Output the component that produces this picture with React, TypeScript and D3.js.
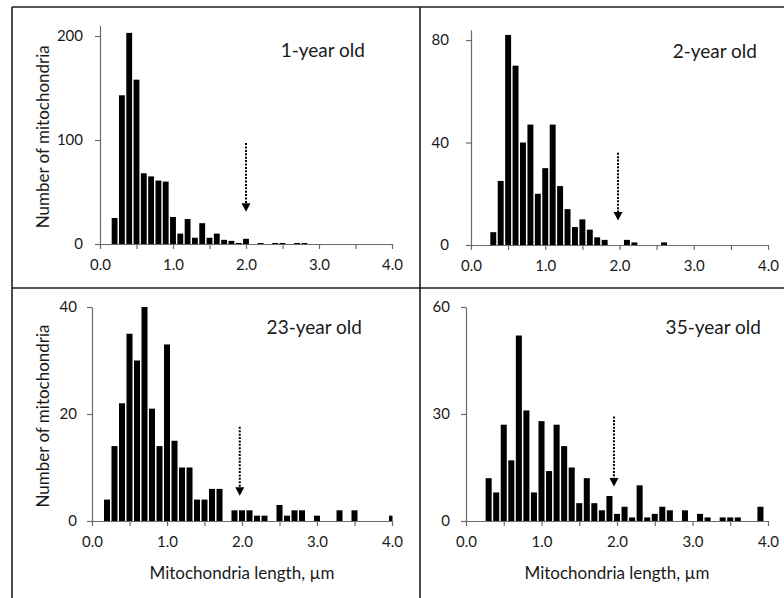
import React, { useEffect, useRef } from 'react';
import * as d3 from 'd3';

// bin centres (µm) and number of mitochondria per bin
const lengths1yr = [0.2, 0.3, 0.4, 0.5, 0.6, 0.7, 0.8, 0.9, 1.0, 1.1, 1.2, 1.3, 1.4, 1.5, 1.6, 1.7, 1.8, 1.9, 2.0, 2.2, 2.4, 2.5, 2.7, 2.8];
const counts1yr = [25, 143, 203, 158, 68, 65, 61, 60, 26, 10, 24, 6, 20, 6, 10, 4, 3, 1, 5, 1, 1, 1, 1, 1];

const lengths2yr = [0.3, 0.4, 0.5, 0.6, 0.7, 0.8, 0.9, 1.0, 1.1, 1.2, 1.3, 1.4, 1.5, 1.6, 1.7, 1.8, 2.1, 2.2, 2.6];
const counts2yr = [5, 25, 82, 70, 40, 47, 20, 30, 47, 23, 14, 7, 10, 6, 3, 2, 2, 1, 1];

const lengths23yr = [0.2, 0.3, 0.4, 0.5, 0.6, 0.7, 0.8, 0.9, 1.0, 1.1, 1.2, 1.3, 1.4, 1.5, 1.6, 1.7, 1.9, 2.0, 2.1, 2.2, 2.3, 2.5, 2.6, 2.7, 2.8, 3.0, 3.3, 3.5, 4.0];
const counts23yr = [4, 14, 22, 35, 30, 40, 21, 14, 33, 15, 10, 10, 4, 4, 6, 6, 2, 2, 2, 1, 1, 3, 1, 2, 2, 1, 2, 2, 1];

const lengths35yr = [0.3, 0.4, 0.5, 0.6, 0.7, 0.8, 0.9, 1.0, 1.1, 1.2, 1.3, 1.4, 1.5, 1.6, 1.7, 1.8, 1.9, 2.0, 2.1, 2.2, 2.3, 2.4, 2.5, 2.6, 2.7, 2.9, 3.1, 3.2, 3.4, 3.5, 3.6, 3.9];
const counts35yr = [12, 8, 27, 17, 52, 31, 8, 28, 14, 27, 21, 15, 5, 12, 5, 3, 7, 2, 4, 1, 10, 1, 2, 4, 3, 3, 2, 1, 1, 1, 1, 4];

const titles = ['1-year old', '2-year old', '23-year old', '35-year old'];
const xTicks = [0, 0.5, 1, 1.5, 2, 2.5, 3, 3.5, 4];
const yTicks1yr = [0, 100, 200];
const yTicks2yr = [0, 40, 80];
const yTicks23yr = [0, 20, 40];
const yTicks35yr = [0, 30, 60];
const yMaxes = [210, 84, 40, 60];

// dotted arrows: x position, start and tip (in counts)
const arrowAt = [2.0, 1.98, 1.97, 1.96];
const arrowFrom = [97, 36, 17.6, 29.3];
const arrowTo = [31, 9.6, 4.7, 9.7];

const FONT = 'Lato, "Open Sans", sans-serif';

// layout of each panel in the 784x598 page
const panels = [
  { lengths: lengths1yr, counts: counts1yr, yTicks: yTicks1yr, left: 100, right: 392, bottom: 244, top: 25.6, yPad: 12, titleX: 365, titleY: 57, yTitle: true, xTitle: false },
  { lengths: lengths2yr, counts: counts2yr, yTicks: yTicks2yr, left: 471, right: 768, bottom: 245, top: 29.8, yPad: 17, titleX: 757, titleY: 58, yTitle: false, xTitle: false },
  { lengths: lengths23yr, counts: counts23yr, yTicks: yTicks23yr, left: 92, right: 392, bottom: 521, top: 307, yPad: 10, titleX: 362, titleY: 334, yTitle: true, xTitle: true },
  { lengths: lengths35yr, counts: counts35yr, yTicks: yTicks35yr, left: 466, right: 768, bottom: 521, top: 307, yPad: 11, titleX: 761, titleY: 334, yTitle: false, xTitle: true },
];

function styleAxis(sel) {
  sel.attr('font-family', FONT).attr('font-size', 15);
  sel.select('.domain').attr('stroke', '#6b6b6b').attr('stroke-width', 1.2);
  sel.selectAll('.tick line').attr('stroke', '#6b6b6b').attr('stroke-width', 1.2);
  sel.selectAll('.tick text').attr('fill', '#1a1a1a');
}

function drawPanel(svg, p, i) {
  const x = d3.scaleLinear().domain([0, 4]).range([p.left, p.right]);
  const y = d3.scaleLinear().domain([0, yMaxes[i]]).range([p.bottom, p.top]);
  const g = svg.append('g');

  const clipId = 'plotclip' + i;
  svg.append('clipPath').attr('id', clipId)
    .append('rect')
    .attr('x', p.left).attr('y', 0)
    .attr('width', p.right - p.left + 0.5).attr('height', p.bottom);

  const bw = (x(0.1) - x(0)) * 0.8;
  g.append('g')
    .attr('clip-path', `url(#${clipId})`)
    .selectAll('rect')
    .data(d3.zip(p.lengths, p.counts))
    .join('rect')
      .attr('x', d => x(d[0]) - bw / 2)
      .attr('width', bw)
      .attr('y', d => y(d[1]))
      .attr('height', d => y(0) - y(d[1]))
      .attr('fill', '#000');

  const xAxis = d3.axisBottom(x)
    .tickValues(xTicks)
    .tickSize(5)
    .tickSizeOuter(0)
    .tickPadding(10)
    .tickFormat(d => (Number.isInteger(d) ? d3.format('.1f')(d) : ''));
  g.append('g')
    .attr('transform', 'translate(0,' + p.bottom + ')')
    .call(xAxis)
    .call(styleAxis);

  const yAxis = d3.axisLeft(y)
    .tickValues(p.yTicks)
    .tickSize(5)
    .tickSizeOuter(0)
    .tickPadding(p.yPad)
    .tickFormat(d3.format('d'));
  g.append('g')
    .attr('transform', 'translate(' + p.left + ',0)')
    .call(yAxis)
    .call(styleAxis);

  // dotted arrow pointing at 2 µm
  const ax = x(arrowAt[i]);
  const tip = y(arrowTo[i]);
  g.append('line')
    .attr('x1', ax).attr('x2', ax)
    .attr('y1', y(arrowFrom[i])).attr('y2', tip - 7)
    .attr('stroke', '#000')
    .attr('stroke-width', 2)
    .attr('stroke-dasharray', '2,1.4');
  g.append('path')
    .attr('d', `M${ax - 4.5},${tip - 8.5}L${ax + 4.5},${tip - 8.5}L${ax},${tip}Z`)
    .attr('fill', '#000');

  g.append('text')
    .attr('x', p.titleX).attr('y', p.titleY)
    .attr('text-anchor', 'end')
    .attr('font-family', FONT).attr('font-size', 19)
    .attr('fill', '#1a1a1a')
    .text(titles[i]);

  if (p.yTitle) {
    g.append('text')
      .attr('transform', `translate(49,${(p.bottom + p.top) / 2 + 2}) rotate(-90)`)
      .attr('text-anchor', 'middle')
      .attr('font-family', FONT).attr('font-size', 17)
      .attr('fill', '#1a1a1a')
      .text('Number of mitochondria');
  }
  if (p.xTitle) {
    g.append('text')
      .attr('x', (p.left + p.right) / 2).attr('y', 579)
      .attr('text-anchor', 'middle')
      .attr('font-family', FONT).attr('font-size', 17)
      .attr('fill', '#1a1a1a')
      .text('Mitochondria length, µm');
  }
}

export default function App() {
  const ref = useRef(null);

  useEffect(() => {
    const svg = d3.select(ref.current);
    svg.selectAll('*').remove();

    // panel frames
    const frame = svg.append('g').attr('stroke', '#1e1e1e').attr('stroke-width', 1.6).attr('fill', 'none');
    frame.append('line').attr('x1', 12).attr('x2', 784).attr('y1', 7).attr('y2', 7);
    frame.append('line').attr('x1', 12).attr('x2', 784).attr('y1', 288).attr('y2', 288);
    frame.append('line').attr('x1', 12).attr('x2', 12).attr('y1', 7).attr('y2', 598);
    frame.append('line').attr('x1', 420).attr('x2', 420).attr('y1', 7).attr('y2', 598);

    panels.forEach((p, i) => drawPanel(svg, p, i));
  }, []);

  return (
    <svg
      ref={ref}
      width={784}
      height={598}
      style={{ position: 'absolute', left: 0, top: 0, background: '#fff' }}
    />
  );
}
